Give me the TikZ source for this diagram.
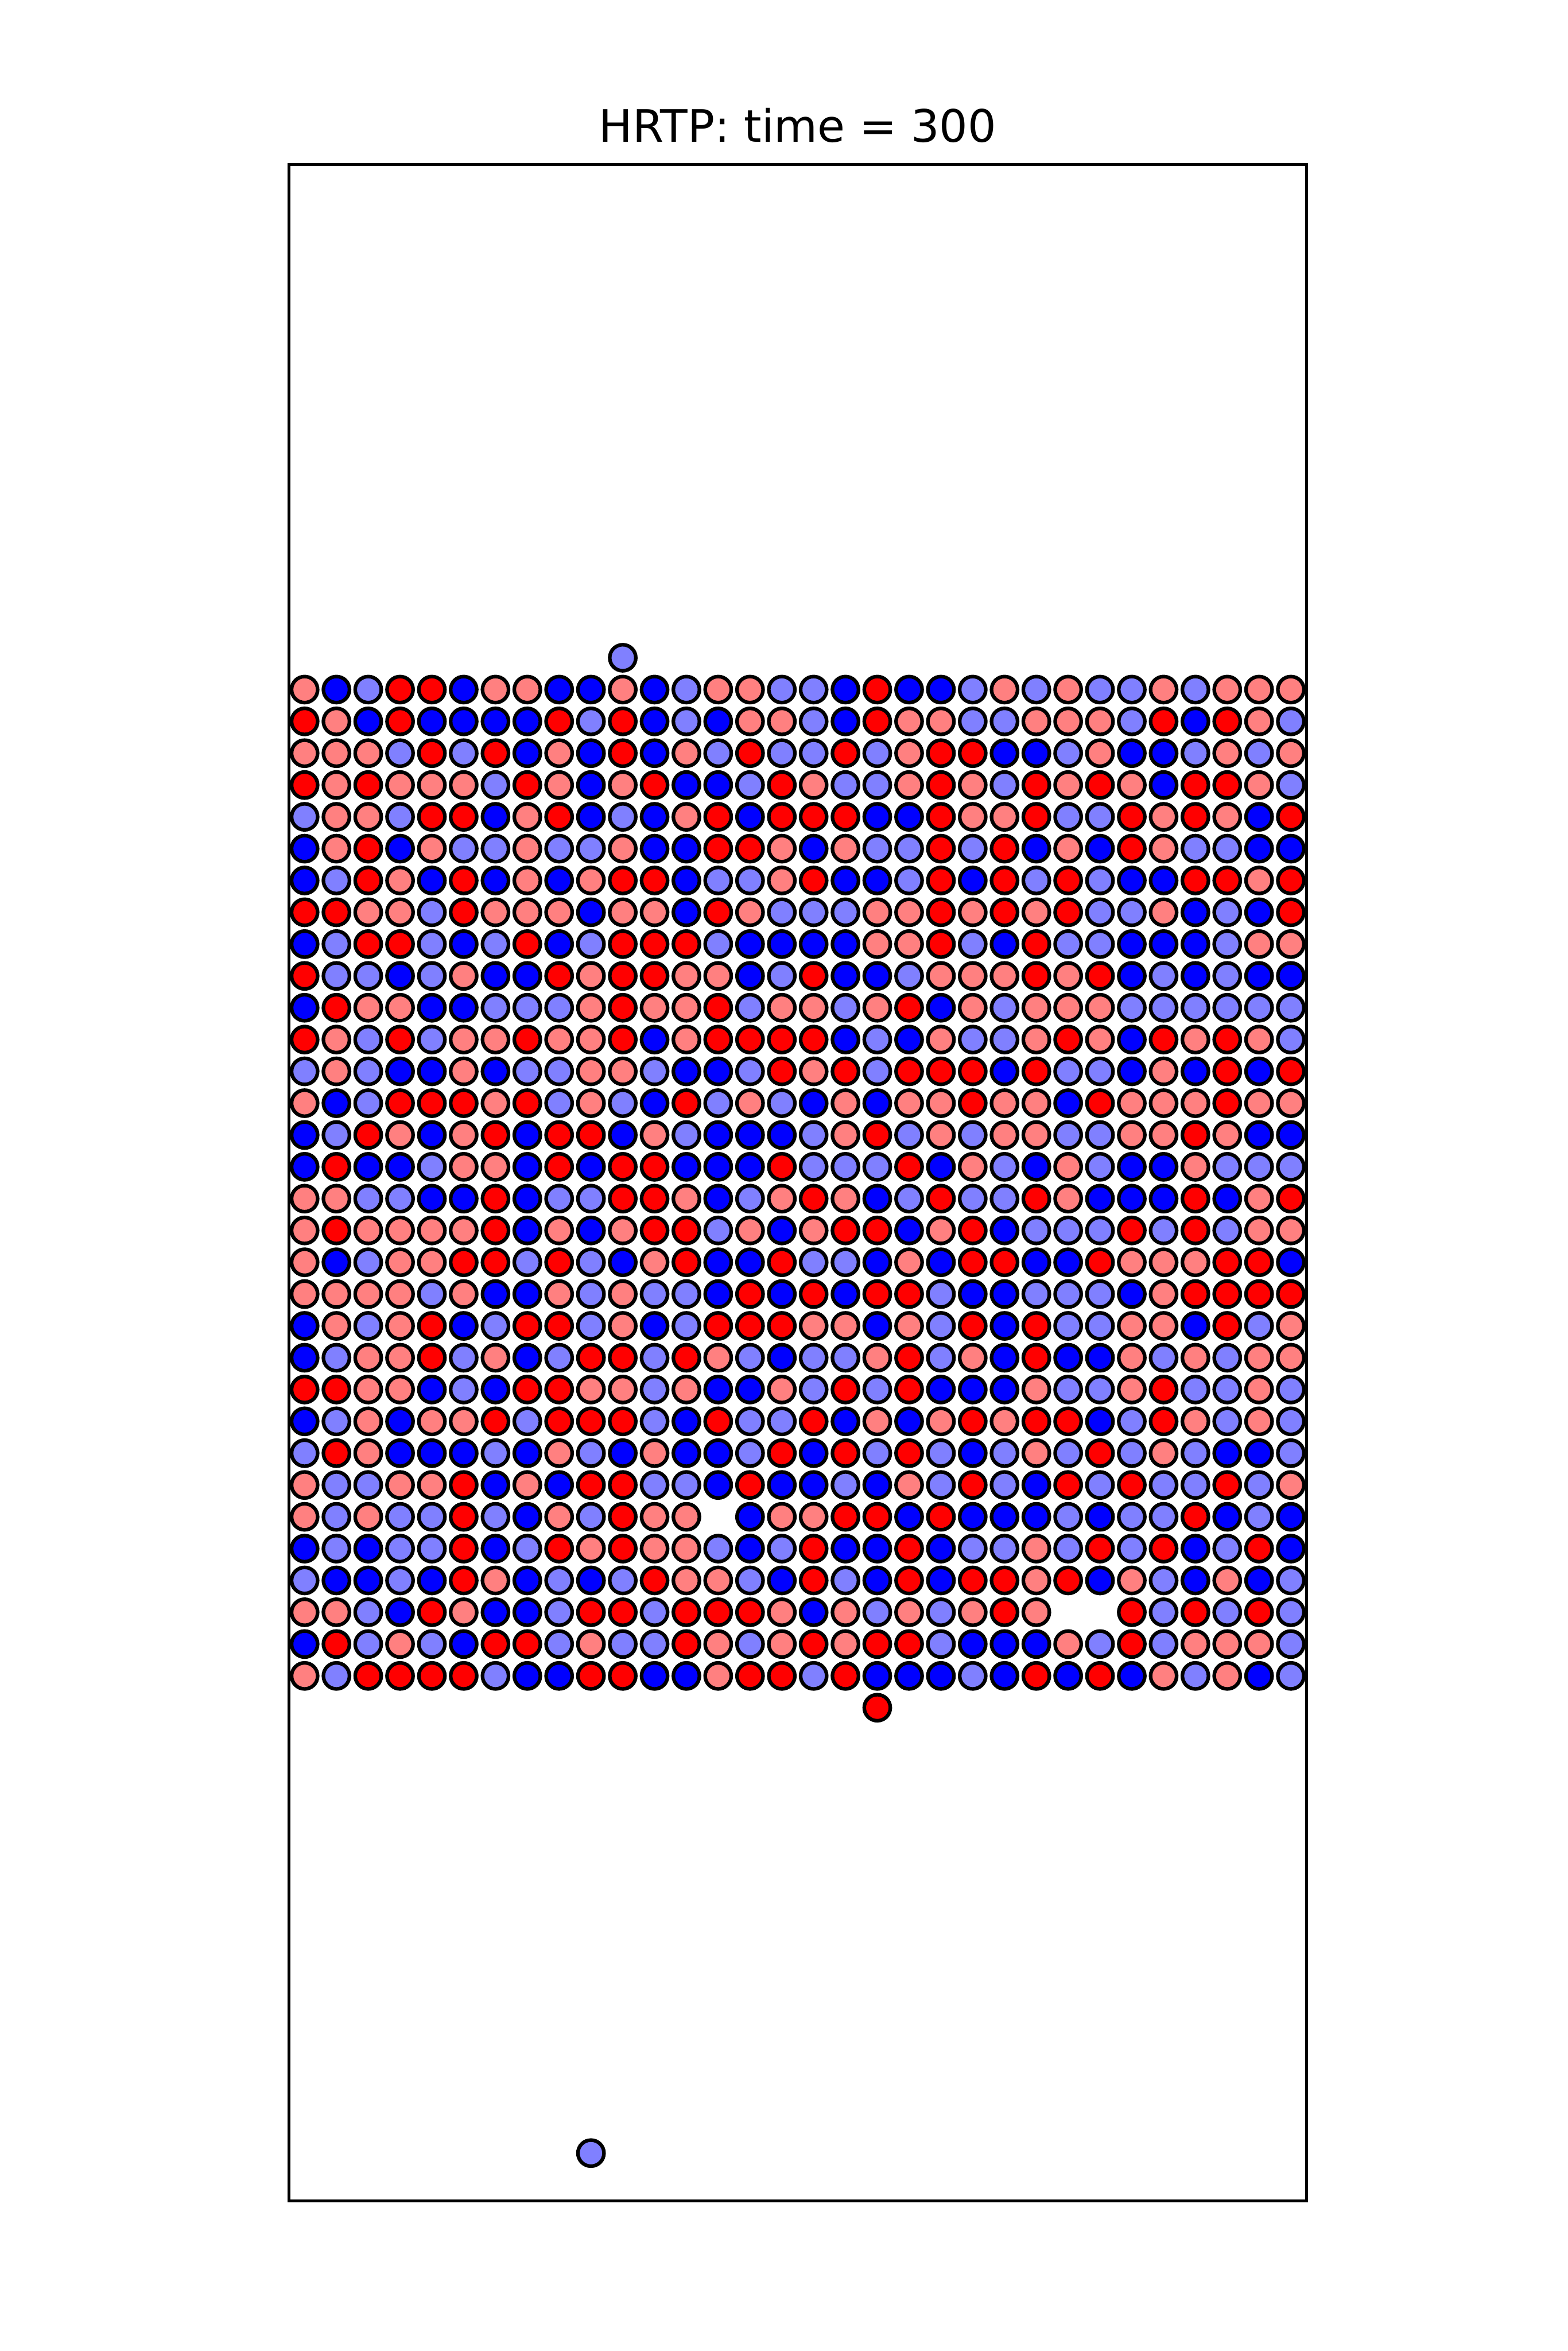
\documentclass[tikz,border=0pt]{standalone}
\usepackage{fontspec}
\setmainfont{DejaVu Sans}
\definecolor{partR}{rgb}{1,0,0}
\definecolor{partr}{rgb}{1,0.5,0.5}
\definecolor{partB}{rgb}{0,0,1}
\definecolor{partb}{rgb}{0.5,0.5,1}

\begin{document}
\begin{tikzpicture}[x=0.4cm, y=0.4cm, particle/.style={draw=black, line width=1.29pt}]
	\useasboundingbox (-9.075,-4.719) rectangle (40.204,69.174);
	\node[anchor=base, font=\fontsize{16}{19}\selectfont] (title) at (16,64.70) {HRTP: time = 300};
	\draw[line width=1.02pt] (0,0) rectangle (32,64);
	\foreach \row [count=\j from 0] in {
		{r,B,b,R,R,B,r,r,B,B,r,B,b,r,r,b,b,B,R,B,B,b,r,b,r,b,b,r,b,r,r,r},
		{R,r,B,R,B,B,B,B,R,b,R,B,b,B,r,r,b,B,R,r,r,b,b,r,r,r,b,R,B,R,r,b},
		{r,r,r,b,R,b,R,B,r,B,R,B,r,b,R,b,b,R,b,r,R,R,B,B,b,r,B,B,b,r,b,r},
		{R,r,R,r,r,r,b,R,r,B,r,R,B,B,b,R,r,b,b,r,R,r,b,R,r,R,r,B,R,R,r,b},
		{b,r,r,b,R,R,B,r,R,B,b,B,r,R,B,R,R,R,B,B,R,r,r,R,b,b,R,r,R,r,B,R},
		{B,r,R,B,r,b,b,r,b,b,r,B,B,R,R,r,B,r,b,b,R,b,R,B,r,B,R,r,b,b,B,B},
		{B,b,R,r,B,R,B,r,B,r,R,R,B,b,b,r,R,B,B,b,R,B,R,b,R,b,B,B,R,R,r,R},
		{R,R,r,r,b,R,r,r,r,B,r,r,B,R,r,b,b,b,r,r,R,r,R,r,R,b,b,r,B,b,B,R},
		{B,b,R,R,b,B,b,R,B,b,R,R,R,b,B,B,B,B,r,r,R,b,B,R,b,b,B,B,B,b,r,r},
		{R,b,b,B,b,r,B,B,R,r,R,R,r,r,B,b,R,B,B,b,r,r,r,R,r,R,B,b,B,b,B,B},
		{B,R,r,r,B,B,b,b,b,r,R,r,r,R,b,r,r,b,r,R,B,r,b,r,r,r,b,b,b,b,b,b},
		{R,r,b,R,b,r,r,R,r,r,R,B,r,R,R,R,R,B,b,B,r,b,b,r,R,r,B,R,r,R,r,b},
		{b,r,b,B,B,r,B,b,b,r,r,b,B,B,b,R,r,R,b,R,R,R,B,R,b,b,B,r,B,R,B,R},
		{r,B,b,R,R,R,r,R,b,r,b,B,R,b,r,b,B,r,B,r,r,R,r,r,B,R,r,r,r,R,r,r},
		{B,b,R,r,B,r,R,B,R,R,B,r,b,B,B,B,b,r,R,b,r,b,r,r,b,b,r,r,R,r,B,B},
		{B,R,B,B,b,r,r,B,R,B,R,R,B,B,B,R,b,b,b,R,B,r,b,B,r,b,B,B,r,b,b,b},
		{r,r,b,b,B,B,R,B,b,b,R,R,r,B,b,r,R,r,B,b,R,b,b,R,r,B,B,B,R,B,r,R},
		{r,R,r,r,r,r,R,B,r,B,r,R,R,b,r,B,r,R,R,B,r,R,B,b,b,b,R,b,R,b,r,r},
		{r,B,b,r,r,R,R,b,R,b,B,r,R,B,B,R,b,b,B,r,B,R,R,B,B,R,r,r,r,R,R,B},
		{r,r,r,r,b,r,B,B,r,b,r,b,b,B,R,B,R,B,R,R,b,B,B,b,b,b,B,r,R,R,R,R},
		{B,r,b,r,R,B,b,R,R,b,r,B,b,R,R,R,r,r,B,r,b,R,B,R,b,b,r,r,B,R,b,r},
		{B,b,r,r,R,b,r,B,b,R,R,b,R,r,b,B,b,b,r,R,b,r,B,R,B,B,r,b,r,b,r,r},
		{R,R,r,r,B,b,B,R,R,r,r,b,r,B,B,r,b,R,b,R,B,B,B,r,b,b,r,R,b,b,r,b},
		{B,b,r,B,r,r,R,b,R,R,R,b,B,R,b,b,R,B,r,B,r,R,r,R,R,B,b,R,r,b,r,b},
		{b,R,r,B,B,B,b,B,r,b,B,r,B,B,b,R,B,R,b,R,b,B,b,r,b,R,b,r,b,B,B,b},
		{r,b,b,r,r,R,B,r,B,R,R,b,b,B,R,B,B,b,B,r,b,R,b,B,R,b,R,b,b,R,b,r},
		{r,b,r,b,b,R,b,B,r,b,R,r,r,n,B,r,r,R,R,B,R,B,B,B,b,B,b,b,R,B,b,B},
		{B,b,B,b,b,R,B,b,R,r,R,r,r,b,B,b,R,B,B,R,B,b,b,r,b,R,b,R,B,b,R,B},
		{b,B,B,b,B,R,r,B,b,B,b,R,r,r,b,B,R,b,B,R,B,R,R,r,R,B,r,b,B,r,B,b},
		{r,r,b,B,R,r,B,B,b,R,R,b,R,R,R,r,B,r,b,r,b,r,R,r,n,n,R,b,R,b,R,b},
		{B,R,b,r,b,B,R,R,b,r,b,b,R,r,b,r,R,r,R,R,b,B,B,B,r,b,R,b,r,r,r,b},
		{r,b,R,R,R,R,b,B,B,R,R,B,B,r,R,R,b,R,B,B,B,b,B,R,B,R,B,r,b,r,B,b}}{
		\foreach \c [count=\i from 0] in \row {
			\if\c n\else
				\draw[particle, fill=part\c] (\i+0.5,47.5-\j) circle (0.41);
			\fi
		}
	}
	% particles off the lattice
	\draw[particle, fill=partb] (10.5,48.5) circle (0.41);
	\draw[particle, fill=partR] (18.5,15.5) circle (0.41);
	\draw[particle, fill=partb] (9.5,1.5) circle (0.41);
\end{tikzpicture}
\end{document}
